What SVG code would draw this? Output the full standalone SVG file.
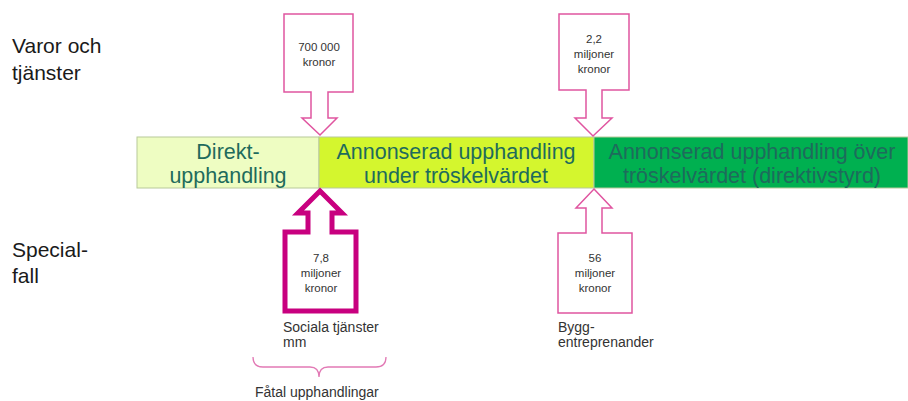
<svg xmlns="http://www.w3.org/2000/svg" width="908" height="401" viewBox="0 0 908 401">
<style>
.lbl{font-family:"Liberation Sans",Arial,sans-serif;font-size:21px;fill:#1a1a1a}
.bar{font-family:"Liberation Sans",Arial,sans-serif;font-size:21.5px;fill:#1E6B5C;text-anchor:middle}
.box{font-family:"Liberation Sans",Arial,sans-serif;font-size:11.5px;fill:#333;text-anchor:middle}
.note{font-family:"Liberation Sans",Arial,sans-serif;font-size:14px;fill:#333}
.arrow{fill:#fff;stroke:#E055A0;stroke-width:1.5}
.thick{fill:#fff;stroke:#C8007F;stroke-width:5}
</style>
<rect width="908" height="401" fill="#fff"/>
<g id="labels">
<text class="lbl" x="12" y="53">Varor och</text>
<text class="lbl" x="12" y="80">tjänster</text>
<text class="lbl" x="12" y="257">Special-</text>
<text class="lbl" x="12" y="283">fall</text>
</g>
<g id="seg-direkt">
<rect x="137" y="137" width="182" height="51" fill="#EEFDC2" stroke="#B8C99A" stroke-width="1"/>
<text class="bar" x="228" y="159">Direkt-</text>
<text class="bar" x="228" y="183">upphandling</text>
</g>
<g id="seg-under">
<rect x="319" y="137" width="275" height="51" fill="#D4F62E" stroke="#B8C99A" stroke-width="1"/>
<text class="bar" x="456" y="159">Annonserad upphandling</text>
<text class="bar" x="456" y="183">under tröskelvärdet</text>
</g>
<g id="seg-over">
<rect x="594" y="137" width="314" height="51" fill="#00B050" stroke="#B8C99A" stroke-width="1"/>
<text class="bar" x="752" y="159">Annonserad upphandling över</text>
<text class="bar" x="752" y="183">tröskelvärdet (direktivstyrd)</text>
</g>
<g id="connectors">
<path d="M253,357 Q253,367 263,367 H310 Q319,367 319,377 Q319,367 328,367 H376 Q386,367 386,357" fill="none" stroke="#E27AB5" stroke-width="1.3"/>
</g>
<g id="arrow-700000">
<path class="arrow" d="M284,14 H353 V92 H328 V118 H337 L320,135 L302,118 H311 V92 H284 Z"/>
<text class="box" x="319" y="51">700 000</text>
<text class="box" x="319" y="66">kronor</text>
</g>
<g id="arrow-22">
<path class="arrow" d="M559,14 H629 V90 H602 V118 H612 L593,136 L575,118 H586 V90 H559 Z"/>
<text class="box" x="594" y="43">2,2</text>
<text class="box" x="594" y="58">miljoner</text>
<text class="box" x="594" y="73">kronor</text>
</g>
<g id="arrow-78">
<path class="thick" d="M320,191 L342,213 H332 V232 H356 V311 H285 V232 H308 V213 H298 Z"/>
<text class="box" x="321" y="262">7,8</text>
<text class="box" x="321" y="277">miljoner</text>
<text class="box" x="321" y="292">kronor</text>
<text class="note" x="283" y="332">Sociala tjänster</text>
<text class="note" x="283" y="347">mm</text>
</g>
<g id="arrow-56">
<path class="arrow" d="M594,189 L612,208 H602 V233 H632 V313 H558 V233 H586 V208 H576 Z"/>
<text class="box" x="595" y="262">56</text>
<text class="box" x="595" y="277">miljoner</text>
<text class="box" x="595" y="292">kronor</text>
<text class="note" x="558" y="332">Bygg-</text>
<text class="note" x="558" y="347">entreprenander</text>
</g>
<g id="brace-label">
<text class="note" x="255" y="397">Fåtal upphandlingar</text>
</g>
</svg>
